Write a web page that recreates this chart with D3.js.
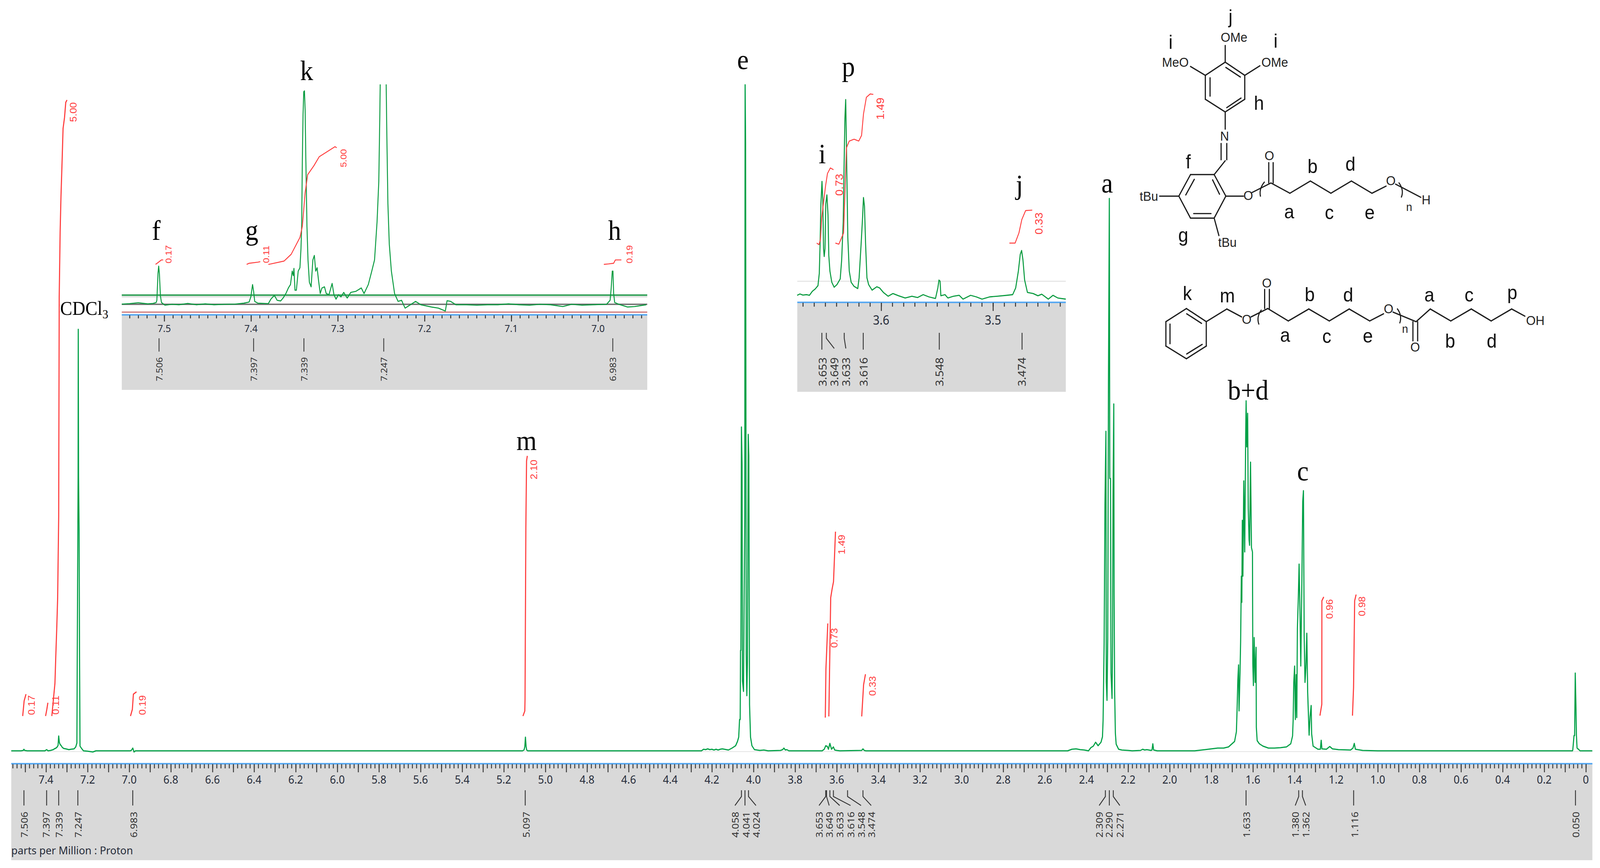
<!DOCTYPE html>
<html><head><meta charset="utf-8">
<script src="https://cdn.jsdelivr.net/npm/d3@7/dist/d3.min.js"></script>
<style>html,body{margin:0;padding:0;background:#fff;width:100%;height:100%;overflow:hidden}svg{display:block;width:100vw;height:100vh}</style>
</head><body><svg id="c" viewBox="0 0 4415 2222" preserveAspectRatio="none"></svg>
<script>
// ---------- DATA: [ppm, intensity] ----------
const mainTrace=[[7.567,0],[7.52,0],[7.509,1],[7.506,4],[7.503,1],[7.49,0],[7.405,0],[7.397,3],[7.39,0],[7.378,1],[7.365,3],[7.36,5],[7.352,7],[7.346,10],[7.342,14],[7.339,38],[7.336,22],[7.332,16],[7.328,14],[7.322,9],[7.315,6],[7.305,5],[7.29,3],[7.28,4],[7.265,5],[7.257,10],[7.2515,20],[7.25,213],[7.2457,700],[7.245,1079],[7.2435,700],[7.241,566],[7.2385,213],[7.2365,12],[7.229,6],[7.22,0],[7.2,-1],[7.175,-3],[7.16,0],[6.996,0],[6.99,1],[6.983,7],[6.977,-3],[6.97,0],[5.11,0],[5.103,2],[5.099,10],[5.096,35],[5.093,12],[5.09,2],[5.085,0],
[4.25,0],[4.24,4],[4.23,3],[4.22,5],[4.21,3],[4.2,4],[4.19,2],[4.18,4],[4.17,2],[4.16,4],[4.15,5],[4.14,4],[4.1205,2],[4.103,7],[4.086,13],[4.077,24],[4.0711,35],[4.067,80],[4.064,80],[4.0624,257],[4.0606,257],[4.058,829],[4.055,734],[4.053,179],[4.048,152],[4.045,390],[4.042,600],[4.0403,1705],[4.038,1556],[4.035,246],[4.032,141],[4.029,229],[4.0254,810],[4.0225,756],[4.019,118],[4.0143,35],[4.0075,13],[3.9955,3],[3.97,1],[3.95,2],[3.93,0],[3.87,1],[3.86,3],[3.854,7],[3.847,2],[3.84,3],[3.83,0],
[3.67,0],[3.66,4],[3.653,13],[3.645,11],[3.64,4],[3.633,19],[3.625,4],[3.616,10],[3.61,2],[3.6,1],[3.585,0],[3.48,1],[3.474,5],[3.468,1],[3.46,0],[2.49,0],[2.47,4],[2.45,5],[2.43,3],[2.41,2],[2.39,0],
[2.379,8],[2.367,12],[2.356,22],[2.344,13],[2.33,22],[2.323,36],[2.32,78],[2.315,278],[2.311,632],[2.3064,818],[2.3047,176],[2.3012,129],[2.2977,287],[2.2942,944],[2.29,1414],[2.2878,697],[2.2843,697],[2.282,199],[2.277,134],[2.2745,278],[2.2722,651],[2.2687,888],[2.267,400],[2.2645,152],[2.261,45],[2.2572,17],[2.2454,4],[2.23,2],[2.2,1],[2.18,0],[2.14,1],[2.13,4],[2.12,2],[2.11,3],[2.09,1],[2.085,2],[2.081,18],[2.077,2],[2.06,0],[1.88,0],[1.83,3],
[1.7694,7],[1.7404,7],[1.7172,10],[1.6881,24],[1.6794,49],[1.6765,99],[1.6725,181],[1.669,220],[1.6667,102],[1.662,200],[1.6591,279],[1.6556,447],[1.6533,380],[1.651,590],[1.6481,447],[1.644,691],[1.6394,509],[1.6347,812],[1.6327,896],[1.6295,778],[1.6254,864],[1.6225,621],[1.6185,540],[1.6161,526],[1.6115,739],[1.6069,520],[1.6022,509],[1.6005,223],[1.5976,167],[1.5941,290],[1.5894,175],[1.5848,265],[1.5836,60],[1.5796,26],[1.5691,18],[1.5517,12],[1.5256,7],[1.4966,7],[1.4675,8],[1.4385,10],[1.4182,18],[1.4095,38],[1.4066,80],[1.4037,175],[1.3996,217],[1.3961,80],[1.392,195],[1.3892,85],[1.3863,313],[1.3816,397],[1.3781,478],[1.3735,343],[1.37,217],[1.3648,433],[1.3607,638],[1.3572,666],[1.3537,296],[1.3497,175],[1.3456,212],[1.341,301],[1.3369,150],[1.33,40],[1.3253,88],[1.3201,116],[1.3177,43],[1.3108,12],[1.2876,4],[1.276,4],[1.2719,27],[1.2684,5],[1.2469,4],[1.2307,11],[1.218,5],[1.189,3],[1.1308,2],[1.1192,7],[1.1128,19],[1.1076,4],[1.0728,1],[1.0,0],
[0.064,0],[0.0627,3],[0.0569,39],[0.054,39],[0.051,199],[0.0475,109],[0.0453,39],[0.0423,7],[0.0336,3],[0.028,0],[-0.031,0]];

const int500=[[7.372,89],[7.357,173],[7.353,241],[7.348,319],[7.344,392],[7.339,600],[7.3365,1161],[7.332,1329],[7.328,1419],[7.322,1520],[7.318,1593],[7.311,1621],[7.305,1660],[7.299,1666]];
const int017=[[7.512,89],[7.505,128],[7.496,145]];
const int011=[[7.402,89],[7.396,106],[7.391,123]];
const int019=[[6.994,89],[6.985,106],[6.98,145],[6.965,151]];
const int210=[[5.108,89],[5.099,102],[5.098,131],[5.094,570],[5.0906,742],[5.087,755]];
const int073=[[3.655,85],[3.652,209],[3.643,326]];
const int149=[[3.638,88],[3.629,392],[3.622,415],[3.6155,433],[3.606,561]];
const int033=[[3.48,88],[3.471,169],[3.462,196]];
const int096=[[1.278,90],[1.269,119],[1.2686,384],[1.2597,394]];
const int098=[[1.1216,90],[1.1164,162],[1.1111,384],[1.1041,400]];

const aroTrace=[[7.549,1],[7.54,3],[7.53,7],[7.519,2],[7.513,4],[7.5093,8],[7.5085,18],[7.5072,138],[7.5064,170],[7.5056,138],[7.5044,38],[7.5032,8],[7.4992,-4],[7.4911,0],[7.483,-2],[7.4729,4],[7.4628,-2],[7.4527,2],[7.4426,-2],[7.4305,0],[7.4184,1],[7.4083,5],[7.4022,10],[7.4002,33],[7.3982,88],[7.397,58],[7.3957,13],[7.3921,5],[7.38,3],[7.3771,23],[7.3731,40],[7.3699,18],[7.3658,15],[7.363,28],[7.3598,48],[7.3569,73],[7.3545,88],[7.3525,148],[7.3513,128],[7.3505,160],[7.3493,63],[7.3477,63],[7.3456,148],[7.3436,163],[7.3424,248],[7.3416,348],[7.3408,648],[7.34,848],[7.3392,948],[7.3384,952],[7.3376,868],[7.3368,648],[7.3355,348],[7.3343,198],[7.3327,98],[7.3307,78],[7.3287,198],[7.327,218],[7.3254,148],[7.3238,163],[7.3222,108],[7.3202,48],[7.3182,73],[7.3153,78],[7.3133,48],[7.3101,43],[7.3065,93],[7.3044,43],[7.302,23],[7.2992,43],[7.2963,33],[7.2931,53],[7.2891,28],[7.285,53],[7.279,58],[7.2729,73],[7.2697,48],[7.2648,88],[7.2608,148],[7.2576,198],[7.2547,368],[7.2527,548],[7.2515,848],[7.2507,1100],[7.2446,1100],[7.2434,748],[7.2422,448],[7.2406,268],[7.2382,148],[7.2345,48],[7.2305,13],[7.2265,18],[7.2224,-17],[7.2163,-2],[7.2103,13],[7.2042,-2],[7.1982,-7],[7.1921,-12],[7.184,-17],[7.176,-30],[7.174,16],[7.1699,13],[7.1638,-2],[7.1517,-2],[7.1396,-4],[7.1275,-2],[7.1154,-2],[7.1032,2],[7.0911,-2],[7.079,-4],[7.0669,0],[7.0548,-2],[7.0406,-10],[7.0305,0],[7.0184,-4],[7.0063,-2],[6.9901,0],[6.9861,18],[6.9849,68],[6.9836,148],[6.9828,148],[6.982,48],[6.9808,8],[6.976,0],[6.9659,-12],[6.9578,-10],[6.9445,-2]];
const aroInt017=[[7.51,178],[7.5072,186],[7.5032,198],[7.5012,198]];
const aroInt011=[[7.405,178],[7.4022,183],[7.3921,188],[7.3893,190]];
const aroInt500=[[7.38,178],[7.3771,180],[7.3618,193],[7.3537,223],[7.3436,298],[7.3408,348],[7.3376,498],[7.3347,578],[7.3275,618],[7.3214,658],[7.3113,683],[7.3032,703],[7.3012,698]];
const aroInt019=[[6.9933,178],[6.988,180],[6.982,183],[6.98,198],[6.9731,198]];

const omeTrace=[[3.6751,7],[3.6726,13],[3.67,8],[3.6666,10],[3.6641,7],[3.6615,25],[3.659,35],[3.6565,50],[3.6553,105],[3.6546,235],[3.6539,410],[3.6529,515],[3.6522,435],[3.6515,215],[3.6509,180],[3.6502,215],[3.6495,415],[3.6485,455],[3.6475,365],[3.6468,185],[3.6458,115],[3.6441,65],[3.642,43],[3.6395,55],[3.6366,80],[3.6353,165],[3.6339,335],[3.6331,595],[3.6324,795],[3.6317,880],[3.6312,735],[3.6305,495],[3.6298,265],[3.6285,115],[3.6268,65],[3.6242,47],[3.6209,37],[3.6197,85],[3.6178,245],[3.6166,355],[3.6158,443],[3.6149,405],[3.6139,235],[3.6127,85],[3.6112,55],[3.6081,30],[3.6039,45],[3.6014,40],[3.598,20],[3.5937,3],[3.5895,15],[3.5844,5],[3.5785,-5],[3.5725,3],[3.5675,-3],[3.5624,10],[3.5573,0],[3.5514,-7],[3.5493,40],[3.5483,75],[3.5473,70],[3.5466,5],[3.5429,10],[3.5403,-5],[3.5353,3],[3.5302,7],[3.5268,-10],[3.52,7],[3.5149,0],[3.5098,-10],[3.503,0],[3.4963,3],[3.4878,7],[3.4824,10],[3.4797,40],[3.4773,115],[3.4756,190],[3.4744,207],[3.4732,165],[3.4717,75],[3.4692,20],[3.4641,15],[3.4598,5],[3.4564,12],[3.4505,-10],[3.4463,7],[3.442,-5],[3.4349,-10]];
const omeInt073=[[3.6576,240],[3.6556,233],[3.6543,255],[3.6531,355],[3.6497,495],[3.648,550],[3.6454,575],[3.6426,567]];
const omeInt149=[[3.6409,240],[3.6378,235],[3.6336,285],[3.6327,415],[3.631,665],[3.6285,695],[3.6242,703],[3.62,695],[3.6175,720],[3.6158,815],[3.6132,890],[3.6098,905],[3.607,903]];
const omeInt033=[[3.4853,240],[3.4802,240],[3.4768,285],[3.4742,345],[3.4708,385],[3.4649,387]];

const mainPeaks=[7.506,7.397,7.339,7.247,6.983,5.097,4.058,4.041,4.024,3.653,3.649,3.633,3.616,3.548,3.474,2.309,2.290,2.271,1.633,1.380,1.362,1.116,0.050];
const aroPeaks=[7.506,7.397,7.339,7.247,6.983];
const omePeaks=[3.653,3.649,3.633,3.616,3.548,3.474];

// ---------- LAYOUT ----------
const svg=d3.select('#c');
const SANS='"Liberation Sans",Arial,sans-serif',SERIF='"Liberation Serif","Times New Roman",serif',UI='"Noto Sans",sans-serif';
const GREEN='#00a046',RED='#ff3b3b',BLUE='#5aaaf2',PANEL='#d9d9d9',INK='#2b2b2b';
const mainLabelX=[66,127,162,215,368,1451,2028,2058,2086,2260,2288,2317,2347,2376,2404,3033,3059,3090,3439,3574,3603,3737,4348];

const x=d3.scaleLinear().domain([0,7.62]).range([4376,4376-574.2*7.62]);
const y=d3.scaleLinear().domain([0,1705]).range([1922,217]);
const line=(xs,ys)=>d3.line().x(d=>xs(d[0])).y(d=>ys(d[1]));

function rect(g,x0,y0,x1,y1,fill){g.append('rect').attr('x',x0).attr('y',y0).attr('width',x1-x0).attr('height',y1-y0).attr('fill',fill);}
function hline(g,x0,x1,yy,col,w){g.append('line').attr('x1',x0).attr('x2',x1).attr('y1',yy).attr('y2',yy).attr('stroke',col).attr('stroke-width',w);}
function trace(g,d,xs,ys,col,w){g.append('path').attr('d',line(xs,ys)(d)).attr('fill','none').attr('stroke',col).attr('stroke-width',w).attr('stroke-linejoin','round');}
function vtext(g,s,cx,cy,size,col,fam){g.append('text').text(s).attr('transform',`translate(${cx},${cy}) rotate(-90)`).attr('text-anchor','middle').attr('dominant-baseline','central').attr('font-family',fam||SANS).attr('font-size',size).attr('fill',col);}
function axis(g,xs,yy,minorVals,majorVals,labelVals,fmt,minorLen,majorLen,size,labelY,col){
  const a=g.append('g').attr('transform',`translate(0,${yy})`);
  a.call(d3.axisBottom(xs).tickValues(minorVals).tickSize(minorLen).tickFormat(''));
  a.append('g').call(d3.axisBottom(xs).tickValues(majorVals).tickSize(majorLen).tickFormat(''));
  a.selectAll('.domain').remove();
  a.selectAll('line').attr('stroke',col).attr('stroke-width',2.6);
  labelVals.forEach(v=>g.append('text').text(fmt(v)).attr('x',xs(v)).attr('y',labelY).attr('text-anchor','middle').attr('dominant-baseline','central').attr('font-family',UI).attr('font-size',size).attr('fill','#262c3a'));
}
const seq=(a,b,s)=>{const r=[];const n=Math.round((b-a)/s);for(let i=0;i<=n;i++)r.push(+(a+i*s).toFixed(3));return r;};

// main panel
rect(svg,31,1955,4394,2202,PANEL);
hline(svg,31,4394,1924,'#e4e4e4',2);
hline(svg,31,4394,1955,BLUE,4);
const mainMinor=seq(0,7.56,0.02), mainMajor=seq(0,7.5,0.1), mainLabels=seq(0,7.4,0.2);
axis(svg,x,1956,mainMinor,mainMajor,mainLabels,v=>v===0?'0':v.toFixed(1),11,21,29,1995,'#3c3c3c');
trace(svg,mainTrace,x,y,GREEN,3);
[int500,int017,int011,int019,int210,int073,int149,int033,int096,int098].forEach(d=>trace(svg,d,x,y,RED,3));
[['5.00',202,287],['0.17',87,1805],['0.11',153,1805],['0.19',393,1805],['2.10',1473,1202],['0.73',2302,1633],['1.49',2322,1394],['0.33',2407,1756],['0.96',3668,1559],['0.98',3758,1552]]
  .forEach(t=>vtext(svg,t[0],t[1],t[2],26,RED));
mainPeaks.forEach((p,i)=>{
  const tx=x(p),lx=mainLabelX[i];
  const straight=Math.abs(tx-lx)<3;
  svg.append('path').attr('d',straight?`M${tx},2023V2062`:`M${tx},2023V2039L${lx},2062`).attr('fill','none').attr('stroke','#333').attr('stroke-width',2.4);
  vtext(svg,p.toFixed(3),lx,2111,26,'#333',UI);
});
svg.append('text').text('parts per Million : Proton').attr('x',31).attr('y',2176).attr('dominant-baseline','central').attr('font-family',UI).attr('font-size',28).attr('textLength',336).attr('lengthAdjust','spacingAndGlyphs').attr('fill','#262c3a');

// aromatic inset
const xa=d3.scaleLinear().domain([7.5,7.0]).range([453.2,453.2+0.5*2394]);
const ya=d3.scaleLinear().domain([0,1000]).range([779,779-1000/1.742]);
rect(svg,336,216,1786,998,'#fff');
rect(svg,336,807,1786,998,PANEL);
hline(svg,336,1786,755.5,'#2f9e55',4);
hline(svg,336,1786,760,'#dddddd',3);
hline(svg,336,1786,779,'#6d6d6d',3.5);
hline(svg,336,1786,799,'#c25a5a',2.5);
hline(svg,336,1786,806,BLUE,4);
svg.append('clipPath').attr('id','ca').append('rect').attr('x',336).attr('y',216).attr('width',1450).attr('height',600);
axis(svg,xa,807,seq(6.95,7.54,0.01),seq(7.0,7.5,0.1),seq(7.0,7.5,0.1),v=>v.toFixed(1),8,16,26,840,'#333');
trace(svg.append('g').attr('clip-path','url(#ca)'),aroTrace,xa,ya,'#089a3e',2.6);
[aroInt017,aroInt011,aroInt500,aroInt019].forEach(d=>trace(svg,d,xa,ya,RED,2.4));
[['0.17',465,651],['0.11',734,651],['5.00',947.5,405],['0.19',1737,651]].forEach(t=>vtext(svg,t[0],t[1],t[2],24,RED));
aroPeaks.forEach(p=>{
  const tx=xa(p);
  svg.append('line').attr('x1',tx).attr('x2',tx).attr('y1',866).attr('y2',900).attr('stroke','#333').attr('stroke-width',2.2);
  vtext(svg,p.toFixed(3),tx,945,24,'#333',UI);
});

// methoxy inset
const xo=d3.scaleLinear().domain([3.6,3.5]).range([2431.4,2431.4+308.6]);
const yo=d3.scaleLinear().domain([0,1000]).range([760,760-1000/1.742]);
rect(svg,2200,170,2941,1003,'#fff');
rect(svg,2200,775,2941,1003,PANEL);
hline(svg,2200,2941,720,'#e2e2e2',2.5);
hline(svg,2200,2941,774,BLUE,4);
axis(svg,xo,775,seq(3.44,3.67,0.01),[3.5,3.6],[3.5,3.6],v=>v.toFixed(1),10,21,32,819,'#333');
trace(svg,omeTrace,xo,yo,'#089a3e',2.8);
[omeInt073,omeInt149,omeInt033].forEach(d=>trace(svg,d,xo,yo,RED,2.4));
[['0.73',2316,473],['1.49',2429,278],['0.33',2867,572]].forEach(t=>vtext(svg,t[0],t[1],t[2],29,RED));
const omeLabelX=[2269,2302,2334,2383,2592,2819];
omePeaks.forEach((p,i)=>{
  const tx=xo(p),lx=omeLabelX[i];
  svg.append('path').attr('d',Math.abs(tx-lx)<4?`M${tx},852V895`:`M${tx},852V866L${lx},892`).attr('fill','none').attr('stroke','#333').attr('stroke-width',2.4);
  vtext(svg,p.toFixed(3),lx,952,29,'#333',UI);
});

// peak letters (serif)
const peakLetters=[['k',846,205],['f',431,614],['g',695,614],['h',1696,614],['e',2050,177],['a',3055,493],['b+d',3444,1023],['c',3595,1230],['m',1453,1152],['p',2341,195],['i',2269,418],['j',2813,497]];
peakLetters.forEach(t=>svg.append('text').text(t[0]).attr('x',t[1]).attr('y',t[2]).attr('text-anchor','middle').attr('font-family',SERIF).attr('font-size',72).attr('fill','#000'));
const cd=svg.append('text').attr('x',166).attr('y',806).attr('font-family',SERIF).attr('font-size',50).attr('fill','#000');
cd.append('tspan').text('CDCl');
cd.append('tspan').text('3').attr('font-size',32).attr('dy',9);

// structures (picture coordinates of the sketch, mapped by two scales)
const sx=d3.scaleLinear().domain([0,1568]).range([3050,4415]);
const sy=d3.scaleLinear().domain([0,1568]).range([0,960]);
const bondsTop=[[380,260,442,315],[442,315,442,415],[442,415,380,468],[380,468,317,415],[317,415,317,315],[317,315,380,260],[382,282,428,322],[332,325,332,402],[385,450,430,410],[380,260,380,190],[317,315,270,278],[442,315,490,275],[380,468,380,540],[367,600,367,668],[385,600,385,668],[380,672,345,730],
[345,730,270,730],[270,730,233,820],[233,820,270,912],[270,912,345,912],[345,912,382,820],[382,820,345,730],[255,815,282,750],[340,752,362,812],[280,893,335,893],[233,820,172,820],[382,820,438,820],[345,912,360,985],
[465,805,525,765],[518,765,518,680],[532,765,532,680],[525,765,585,808],[585,808,650,757],[650,757,715,808],[715,808,780,757],[780,757,845,808],[845,808,890,778],[920,770,1000,825]];
const bondsBottom=[[257,1290,320,1345],[320,1345,320,1447],[320,1447,257,1500],[257,1500,192,1447],[192,1447,192,1345],[192,1345,257,1290],[205,1355,205,1437],[258,1312,305,1352],[258,1480,307,1440],[320,1345,385,1292],[385,1292,432,1325],[462,1325,515,1290],[505,1290,505,1210],[520,1290,520,1210],[515,1290,580,1342],[580,1342,645,1292],[645,1292,710,1342],[710,1342,773,1292],[773,1292,838,1342],[838,1342,882,1312],[912,1305,985,1345],[975,1345,975,1425],[990,1345,990,1425],[985,1345,1030,1292],[1030,1292,1095,1342],[1095,1342,1160,1292],[1160,1292,1223,1342],[1223,1342,1288,1292],[1288,1292,1330,1322]];
bondsTop.concat(bondsBottom).forEach(b=>svg.append('line').attr('x1',sx(b[0])).attr('y1',sy(b[1])).attr('x2',sx(b[2])).attr('y2',sy(b[3])).attr('stroke','#1c1c1c').attr('stroke-width',3.2).attr('stroke-linecap','round'));
const brackets=[[505,760,486,790,492,822],[930,763,948,795,938,826],[495,1295,478,1325,487,1357],[925,1290,942,1320,933,1352]];
brackets.forEach(b=>svg.append('path').attr('d',`M${sx(b[0])},${sy(b[1])}Q${sx(b[2])},${sy(b[3])} ${sx(b[4])},${sy(b[5])}`).attr('fill','none').attr('stroke','#1c1c1c').attr('stroke-width',3));
const atoms=[['OMe',408,155],['MeO',222,260],['OMe',537,260],['N',378,568],['O',520,650],['O',453,817],['tBu',138,820],['tBu',387,1012],['O',905,755],['H',1017,835],['O',448,1335],['O',512,1183],['O',898,1290],['O',982,1450],['OH',1363,1340]];
atoms.forEach(t=>svg.append('text').text(t[0]).attr('x',sx(t[1])).attr('y',sy(t[2])).attr('text-anchor','middle').attr('dominant-baseline','central').attr('font-family',SANS).attr('font-size',34).attr('fill','#222'));
const sites=[['j',397,70],['i',207,175],['i',540,170],['h',487,430],['f',263,675],['b',657,695],['d',777,685],['a',583,885],['c',710,888],['e',838,888],['g',247,982],['k',260,1225],['m',387,1235],['b',648,1230],['d',770,1232],['a',1027,1232],['c',1153,1232],['p',1290,1222],['a',570,1400],['c',702,1405],['e',832,1403],['b',1093,1425],['d',1225,1425]];
sites.forEach(t=>svg.append('text').text(t[0]).attr('x',sx(t[1])).attr('y',sy(t[2])).attr('text-anchor','middle').attr('dominant-baseline','central').attr('font-family',SANS).attr('font-size',50).attr('fill','#111'));
[['n',963,865],['n',950,1375]].forEach(t=>svg.append('text').text(t[0]).attr('x',sx(t[1])).attr('y',sy(t[2])).attr('text-anchor','middle').attr('dominant-baseline','central').attr('font-family',SANS).attr('font-size',30).attr('fill','#222'));
</script></body></html>
